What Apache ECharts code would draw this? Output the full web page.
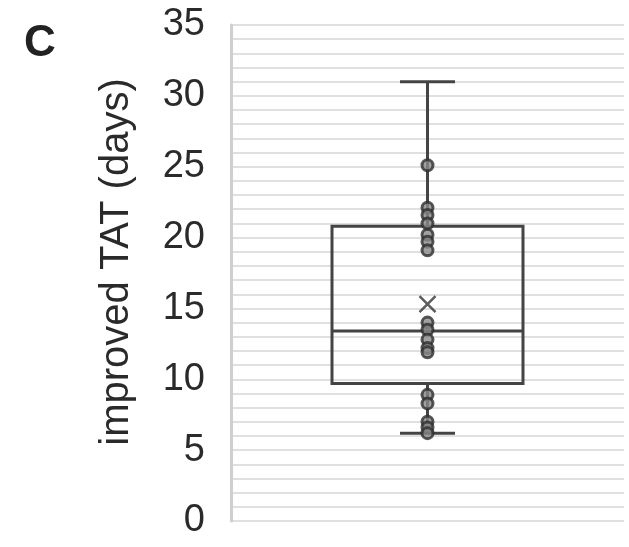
<!DOCTYPE html>
<html>
<head>
<meta charset="utf-8">
<script src="https://cdn.jsdelivr.net/npm/echarts@6/dist/echarts.min.js"></script>
<style>
  html, body { margin: 0; padding: 0; background: #fff; }
  #chart { width: 629px; height: 547px; }
</style>
</head>
<body>
<div id="chart"></div>
<script>
// box summary: min, Q1, median, Q3, max
var boxStats = [6.2, 9.7, 13.4, 20.8, 31.0];
var meanValue = 15.3;
// individual observations drawn as points
var pointValues = [25.1, 22.1, 21.6, 21.0, 20.2, 19.7, 19.1, 14.0, 13.5, 12.8, 12.2, 11.9, 8.9, 8.3, 7.0, 6.6, 6.2];
var categories = [''];
var yTicks = { min: 0, max: 35, step: 5 };

var lineColor = '#444';

var chart = echarts.init(document.getElementById('chart'));

var option = {
  animation: false,
  backgroundColor: '#fff',
  textStyle: { fontFamily: 'Liberation Sans, Arial, sans-serif' },
  graphic: [{
    type: 'text',
    left: 24,
    top: 22,
    style: { text: 'C', fontSize: 44, fontWeight: 'bold', fill: '#222', fontFamily: 'Liberation Sans' }
  }],
  grid: { left: 231, right: 5, top: 25, bottom: 26 },
  xAxis: {
    type: 'category',
    data: categories,
    axisLine: { show: false },
    axisTick: { show: false },
    axisLabel: { show: false },
    splitLine: { show: false }
  },
  yAxis: {
    type: 'value',
    min: yTicks.min,
    max: yTicks.max,
    interval: yTicks.step,
    name: 'improved TAT (days)',
    nameLocation: 'middle',
    nameGap: 94,
    nameTextStyle: { fontSize: 40, color: '#2a2a2a', padding: [0, 0, 0, 22] },
    axisLine: { show: true, lineStyle: { color: '#cfcfcf', width: 3 } },
    axisTick: { show: false },
    axisLabel: { fontSize: 38, color: '#2a2a2a', margin: 26 },
    splitLine: { show: true, lineStyle: { color: '#e0e0e0', width: 2 } },
    minorTick: { show: false, splitNumber: 5 },
    minorSplitLine: { show: true, lineStyle: { color: '#e0e0e0', width: 2 } }
  },
  series: [
    {
      type: 'custom',
      z: 2,
      data: [[0].concat(boxStats)],
      renderItem: function (params, api) {
        var x = api.value(0);
        var low = api.coord([x, api.value(1)]);
        var q1 = api.coord([x, api.value(2)]);
        var med = api.coord([x, api.value(3)]);
        var q3 = api.coord([x, api.value(4)]);
        var high = api.coord([x, api.value(5)]);
        var band = api.size([1, 0])[0];
        var half = band * 0.243;  // box half width
        var cap = band * 0.07;    // whisker cap half width
        var st = { stroke: lineColor, lineWidth: 3, fill: null };
        return {
          type: 'group',
          children: [
            { type: 'line', shape: { x1: high[0], y1: high[1], x2: q3[0], y2: q3[1] }, style: st },
            { type: 'line', shape: { x1: low[0], y1: low[1], x2: q1[0], y2: q1[1] }, style: st },
            { type: 'line', shape: { x1: high[0] - cap, y1: high[1], x2: high[0] + cap, y2: high[1] }, style: st },
            { type: 'line', shape: { x1: low[0] - cap, y1: low[1], x2: low[0] + cap, y2: low[1] }, style: st },
            { type: 'rect', shape: { x: q3[0] - half, y: q3[1], width: half * 2, height: q1[1] - q3[1] }, style: st },
            { type: 'line', shape: { x1: med[0] - half, y1: med[1], x2: med[0] + half, y2: med[1] }, style: st }
          ]
        };
      }
    },
    {
      type: 'scatter',
      z: 3,
      symbol: 'circle',
      symbolSize: 11,
      itemStyle: { color: '#8a8a8a', borderColor: '#2e2e2e', borderWidth: 3 },
      data: pointValues.map(function (v) { return [0, v]; })
    },
    {
      type: 'scatter',
      z: 3,
      symbol: 'path://M0,0L10,10M10,0L0,10',
      symbolSize: 16,
      itemStyle: { color: 'none', borderColor: '#333', borderWidth: 2.5 },
      data: [[0, meanValue]]
    }
  ]
};

chart.setOption(option);
</script>
</body>
</html>
